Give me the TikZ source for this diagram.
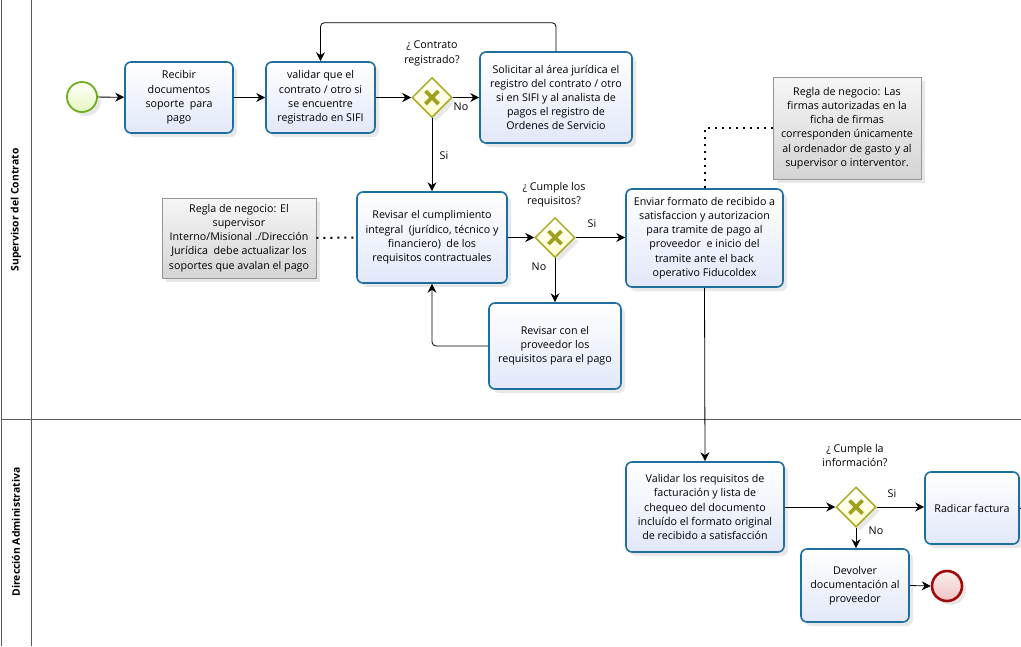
\documentclass[tikz,border=0pt]{standalone}
\usepackage{fontspec}
\setmainfont{Open Sans}
\usetikzlibrary{shapes.geometric,arrows.meta,shadows,calc}
\definecolor{taskborder}{RGB}{30,110,160}
\definecolor{taskfill}{RGB}{226,232,250}
\definecolor{gwborder}{RGB}{170,170,40}
\definecolor{gwfill}{RGB}{255,255,205}
\definecolor{gwx}{RGB}{160,160,30}
\definecolor{stborder}{RGB}{110,175,30}
\definecolor{stfill}{RGB}{230,246,190}
\definecolor{enborder}{RGB}{160,10,10}
\definecolor{enfill}{RGB}{240,195,195}
\definecolor{annborder}{RGB}{150,150,150}
\definecolor{annfillA}{RGB}{246,246,246}
\definecolor{annfillB}{RGB}{212,212,212}
\definecolor{laneline}{RGB}{90,90,90}
\newcommand\mainfnt{\fontsize{10.7pt}{14.2pt}\selectfont}
\tikzset{
  shd/.style={drop shadow={opacity=0.18,shadow xshift=4pt,shadow yshift=-4pt}},
  task/.style={draw=taskborder,line width=1.6pt,rounded corners=6pt,top color=white,bottom color=taskfill,
    align=center,font=\mainfnt,inner sep=2pt,shd},
  gateway/.style={diamond,aspect=1,draw=gwborder,line width=1.5pt,top color=white,bottom color=gwfill,
    minimum width=40pt,minimum height=40pt,inner sep=0pt,shd,
    path picture={\draw[gwx,line width=3.8pt]
      ($(path picture bounding box.center)+(-6.5pt,-6.5pt)$) -- ($(path picture bounding box.center)+(6.5pt,6.5pt)$)
      ($(path picture bounding box.center)+(-6.5pt,6.5pt)$) -- ($(path picture bounding box.center)+(6.5pt,-6.5pt)$);}},
  startev/.style={circle,draw=stborder,line width=1.8pt,top color=white,bottom color=stfill,minimum size=30pt,inner sep=0pt,shd},
  endev/.style={circle,draw=enborder,line width=2.6pt,top color=white!70!enfill,bottom color=enfill,minimum size=30pt,inner sep=0pt,shd},
  annot/.style={draw=annborder,line width=0.8pt,top color=annfillA,bottom color=annfillB,align=center,font=\mainfnt,inner sep=2pt,shd},
  flow/.style={draw=black,line width=0.8pt,-{Stealth[length=9pt,width=9pt,inset=3pt]}},
  plainflow/.style={draw=black,line width=0.8pt},
  assoc/.style={draw=black,line width=2pt,dash pattern=on 2pt off 5pt},
  lbl/.style={font=\mainfnt,inner sep=0pt,align=center},
  lanelbl/.style={font=\fontsize{10.4pt}{12pt}\selectfont\bfseries,rotate=90,inner sep=0pt},
}
\begin{document}
\begin{tikzpicture}[x=1pt,y=-1pt]
\useasboundingbox (0,0) rectangle (1021,646);
% lanes
\draw[laneline,line width=1pt] (1,0) -- (1,646);
\draw[laneline,line width=1pt] (31,0) -- (31,646);
\draw[laneline,line width=1pt] (1,419) -- (1021,419);
\node[lanelbl] (lane1) at (16,210) {Supervisor del Contrato};
\node[lanelbl] (lane2) at (16,532) {Dirección Administrativa};

% nodes
\node[startev] (start) at (82,97) {};
\node[task,minimum width=108pt,minimum height=71pt] (t1) at (179,97.5) {Recibir\\documentos\\soporte\ \ para\\pago};
\node[task,minimum width=109pt,minimum height=71pt] (t2) at (320.5,97.5) {validar que el\\contrato / otro si\\se encuentre\\registrado en SIFI};
\node[gateway] (g1) at (432,97.5) {};
\node[lbl] (g1l) at (432,53.5) {¿ Contrato\\registrado?};
\node[task,minimum width=152pt,minimum height=91pt] (t3) at (556,97.5) {Solicitar al área jurídica el\\registro del contrato / otro\\si en SIFI y al analista de\\pagos el registro de\\Ordenes de Servicio};
\node[task,minimum width=150pt,minimum height=91pt] (t4) at (432,237.5) {Revisar el cumplimiento\\integral\ \ (jurídico, técnico y\\financiero)\ \ de los\\requisitos contractuales};
\node[annot,minimum width=154pt,minimum height=80pt] (a1) at (239,238) {Regla de negocio: El\\supervisor\\Interno/Misional ./Dirección\\Jurídica\ \ debe actualizar los\\soportes que avalan el pago};
\node[gateway] (g2) at (555,237.5) {};
\node[lbl] (g2l) at (554,194.5) {¿ Cumple los\\requisitos?};
\node[task,minimum width=157pt,minimum height=98pt] (t5) at (704.5,238) {Enviar formato de recibido a\\satisfaccion y autorizacion\\para tramite de pago al\\proveedor\ \ e inicio del\\tramite ante el back\\operativo Fiducoldex};
\node[annot,minimum width=148pt,minimum height=102pt] (a2) at (847,128) {Regla de negocio: Las\\firmas autorizadas en la\\ficha de firmas\\corresponden únicamente\\al ordenador de gasto y al\\supervisor o interventor.};
\node[task,minimum width=132pt,minimum height=86pt] (t6) at (555,346) {Revisar con el\\proveedor los\\requisitos para el pago};
\node[task,minimum width=158pt,minimum height=90pt] (t7) at (705,507) {Validar los requisitos de\\facturación y lista de\\chequeo del documento\\incluído el formato original\\de recibido a satisfacción};
\node[gateway] (g3) at (856,507) {};
\node[lbl] (g3l) at (855,455.5) {¿ Cumple la\\información?};
\node[task,minimum width=94pt,minimum height=72pt] (t8) at (972,508) {Radicar factura};
\node[task,minimum width=108pt,minimum height=73pt] (t9) at (855,585.5) {Devolver\\documentación al\\proveedor};
\node[endev] (end) at (947,586) {};

% edge labels
\node[lbl] (n1) at (461,107) {No};
\node[lbl] (s1) at (444,156) {Si};
\node[lbl] (s2) at (592,224) {Si};
\node[lbl] (n2) at (539,267) {No};
\node[lbl] (s3) at (892,494) {Si};
\node[lbl] (n3) at (876,531) {No};

% connectors
\coordinate (lp) at (438,22.7);
\coordinate (outr) at (1021,508);
\draw[flow] (start) -- (t1);
\draw[flow] (t1) -- (t2);
\draw[flow] (t2) -- (g1);
\draw[flow] (g1.east) -- (t3.west);
\draw[flow,rounded corners=4pt] (t3.north) |- (lp) -| (t2.north);
\draw[flow] (g1.south) -- (t4.north);
\draw[assoc] (a1.east) -- (t4.west);
\draw[flow] (t4.east) -- (g2.west);
\draw[flow] (g2.east) -- (t5.west |- g2.east);
\draw[flow] (g2.south) -- (t6.north);
\draw[flow,rounded corners=4pt] (t6.west) -| (t4.south);
\draw[assoc] (a2.west) -| (t5.north);
\draw[flow] (t5.south) -- (t7.north);
\draw[flow] (t7.east) -- (g3.west);
\draw[flow] (g3.east) -- (t8.west |- g3.east);
\draw[flow] (g3.south) -- (t9.north -| g3.south);
\draw[flow] (t9.east) -- (end.west);
\draw[plainflow] (t8.east) -- (outr);
\end{tikzpicture}
\end{document}
